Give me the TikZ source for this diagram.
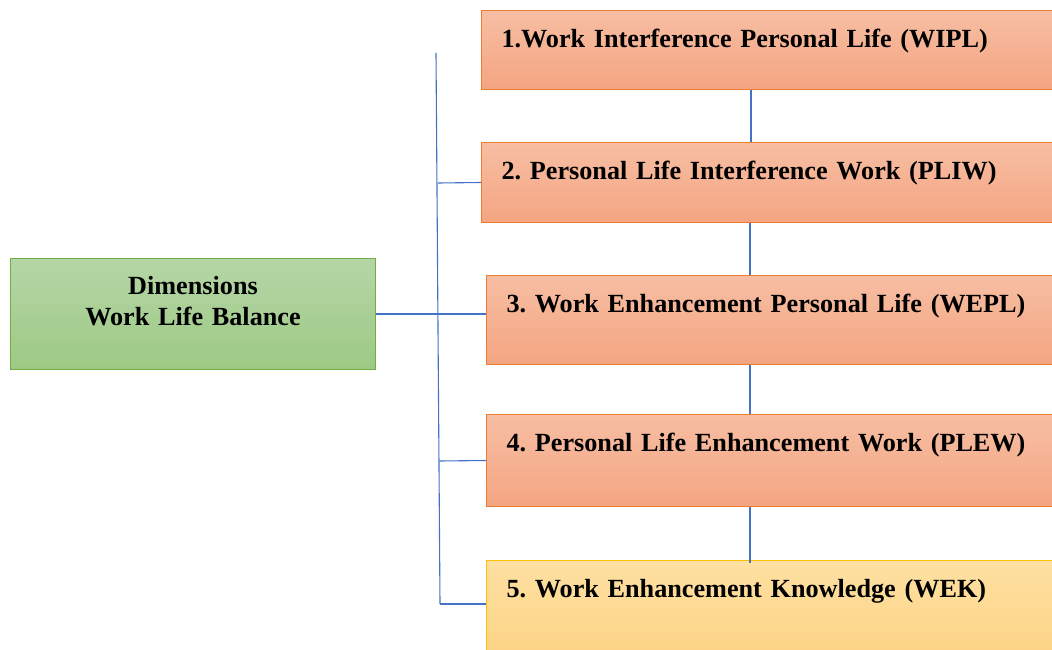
\documentclass[tikz,border=0pt]{standalone}
\usepackage{fontspec}
\setmainfont{Liberation Serif}
\usetikzlibrary{calc}

\definecolor{linkblue}{HTML}{4472C4}
\definecolor{orangeedge}{HTML}{ED7D31}
\definecolor{orangetop}{HTML}{F7BEA3}
\definecolor{orangebot}{HTML}{F4A582}
\definecolor{greenedge}{HTML}{70AD47}
\definecolor{greentop}{HTML}{B5D6A6}
\definecolor{greenbot}{HTML}{9DC984}
\definecolor{yellowedge}{HTML}{FFC000}
\definecolor{yellowtop}{HTML}{FEE0A2}
\definecolor{yellowbot}{HTML}{FDD384}

\tikzset{
  labelfont/.style={font=\fontsize{26.2}{31}\selectfont\bfseries\frenchspacing},
  dimbox/.style 2 args={draw=orangeedge, line width=1pt,
    top color=orangetop, bottom color=orangebot,
    anchor=north west, inner xsep=20pt, inner ysep=0pt,
    minimum width=#1, text width=#1-40pt, align=left,
    minimum height=#2, text height=37pt, text depth=#2-37pt,
    labelfont},
  lastbox/.style 2 args={dimbox={#1}{#2}, draw=yellowedge,
    top color=yellowtop, bottom color=yellowbot},
  rootbox/.style={draw=greenedge, line width=1pt,
    top color=greentop, bottom color=greenbot,
    anchor=north west, inner xsep=4pt, inner ysep=0pt,
    minimum width=365pt, text width=357pt, align=center,
    minimum height=111pt, text height=36pt, text depth=75pt,
    labelfont},
  link/.style={draw=linkblue, line width=1.1pt}
}

\begin{document}
\begin{tikzpicture}[x=1pt, y=-1pt]
  \useasboundingbox (0,0) rectangle (1052,650);

  % central concept
  \node[rootbox] (root) at (10,258) {Dimensions\\Work Life Balance};

  % the five dimensions (they run past the right edge of the page)
  \node[dimbox={620pt}{79pt}] (b1) at (481,10)
    {1.Work Interference Personal Life (WIPL)};
  \node[dimbox={620pt}{80pt}] (b2) at (481,142)
    {2. Personal Life Interference Work (PLIW)};
  \node[dimbox={615pt}{89pt}] (b3) at (486,275)
    {3. Work Enhancement Personal Life (WEPL)};
  \node[dimbox={615pt}{92pt}] (b4) at (486,414)
    {4. Personal Life Enhancement Work (PLEW)};
  \node[lastbox={615pt}{100pt}] (b5) at (486,560)
    {5. Work Enhancement Knowledge (WEK)};

  % trunk and its branches
  \coordinate (trunktop) at (436,53);
  \coordinate (trunkbot) at (440,604);
  \coordinate (j2) at (438,183);
  \coordinate (j4) at (439.5,461);
  \draw[link] (trunktop) -- (trunkbot);
  \draw[link] (j2) -- (b2.west);
  \draw[link] (root.east) -- (root.east -| b3.west);
  \draw[link] (j4) -- (b4.west);
  \draw[link] (trunkbot) -- (trunkbot -| b5.west);

  % links between consecutive boxes
  \draw[link] ($(b1.south west)+(270,0)$) coordinate (v1) -- (v1 |- b2.north);
  \draw[link] ($(b2.south west)+(269,0)$) coordinate (v2) -- (v2 |- b3.north);
  \draw[link] ($(b3.south west)+(264,0)$) coordinate (v3) -- (v3 |- b4.north);
  \draw[link] ($(b4.south west)+(264,0)$) coordinate (v4) -- ($(v4 |- b5.north)+(0,3)$);
\end{tikzpicture}
\end{document}
